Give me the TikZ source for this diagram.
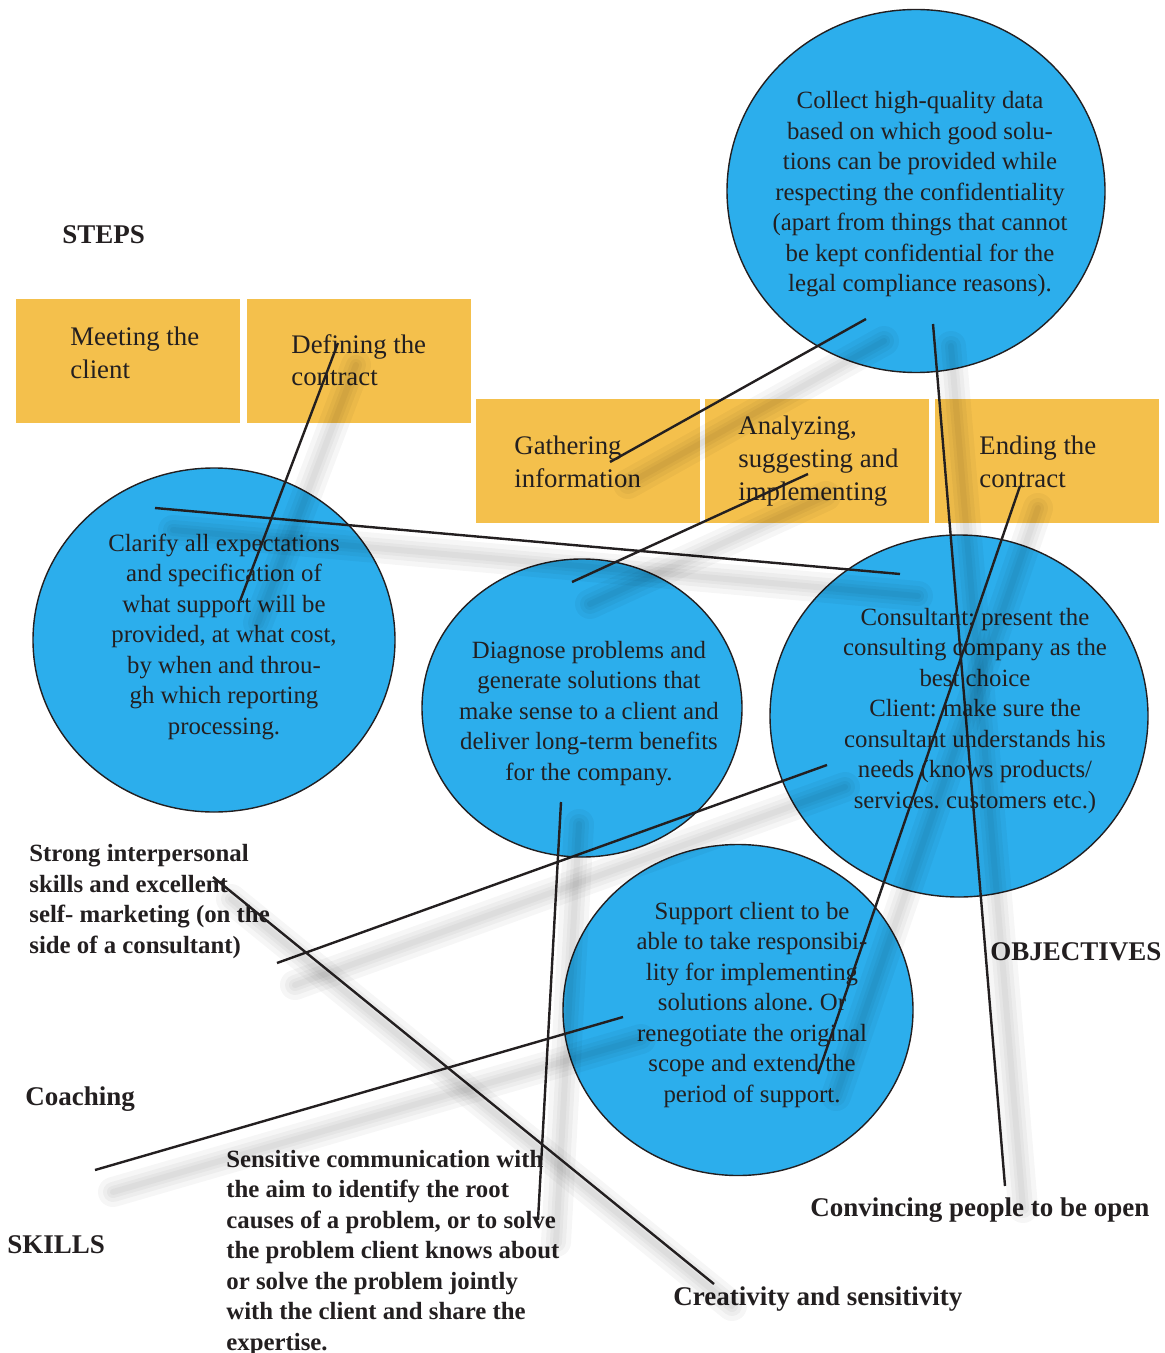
\documentclass[tikz,border=0pt]{standalone}
\usepackage{fontspec}
\setmainfont{Liberation Serif}
\usetikzlibrary{shapes.geometric}
\frenchspacing

\definecolor{stepyellow}{HTML}{F4C04C}
\definecolor{goalblue}{HTML}{2CAEEC}
\definecolor{ink}{HTML}{231F20}

\tikzset{
	stepbox/.style={fill=stepyellow, minimum width=112pt, minimum height=62pt, inner sep=0pt},
	steptext/.style={anchor=base west, align=left, inner sep=0pt, text=ink, font=\fontsize{13.4}{16.5}\selectfont},
	goal/.style={ellipse, draw=ink, line width=0.7pt, fill=goalblue, inner sep=0pt},
	goaltext/.style={anchor=base, align=center, inner sep=0pt, text=ink, font=\fontsize{12.4}{15.25}\selectfont},
	skill/.style={anchor=base west, align=left, inner sep=0pt, text=ink, font=\fontsize{12.4}{15.25}\selectfont\bfseries},
	heading/.style={anchor=base west, inner sep=0pt, text=ink, font=\fontsize{13.5}{16}\selectfont\bfseries},
	blur/.style={draw=black, opacity=0.035, line cap=round, line width=#1, transform canvas={shift={(9pt,-11pt)}}},
	link/.style={draw=ink, line width=1.2pt, preaction={blur=15pt}, preaction={blur=10pt}, preaction={blur=6pt}, preaction={blur=3pt}}
}

\begin{document}
\begin{tikzpicture}[x=0.5pt, y=-0.5pt]
	\useasboundingbox (0,0) rectangle (1164,1353);

	% steps (text nodes sit on the baseline of their last line)
	\node[heading] (steps) at (62,244) {STEPS};
	\node[stepbox] (meet) at (128,361) {};
	\node[stepbox] (define) at (359,361) {};
	\node[stepbox] (gather) at (588,461) {};
	\node[stepbox] (analyze) at (817,461) {};
	\node[stepbox] (finish) at (1047,461) {};
	\node[steptext] (meet-t) at (70,379) {Meeting the\\client};
	\node[steptext] (define-t) at (291,386) {Defining the\\contract};
	\node[steptext] (gather-t) at (514,487) {Gathering\\information};
	\node[steptext] (analyze-t) at (738,500) {Analyzing,\\suggesting and\\implementing};
	\node[steptext] (finish-t) at (979,487) {Ending the\\contract};

	% objectives
	\node[goal, minimum width=189pt, minimum height=181.5pt] (collect) at (916,191) {};
	\node[goal, minimum width=181pt, minimum height=172pt] (clarify) at (214,640) {};
	\node[goal, minimum width=160pt, minimum height=149pt] (diagnose) at (582,708) {};
	\node[goal, minimum width=189pt, minimum height=181pt] (present) at (959,716) {};
	\node[goal, minimum width=175pt, minimum height=165.5pt] (support) at (738,1010) {};
	\node[goaltext] (collect-t) at (920,292) {Collect high-quality data\\based on which good solu-\\tions can be provided while\\respecting the confidentiality\\(apart from things that cannot\\be kept confidential for the\\legal compliance reasons).};
	\node[goaltext] (clarify-t) at (224,734) {Clarify all expectations\\and specification of\\what support will be\\provided, at what cost,\\by when and throu-\\gh which reporting\\processing.};
	\node[goaltext] (diagnose-t) at (589,780) {Diagnose problems and\\generate solutions that\\make sense to a client and\\deliver long-term benefits\\for the company.};
	\node[goaltext] (present-t) at (975,808) {Consultant: present the\\consulting company as the\\best choice\\Client: make sure the\\consultant understands his\\needs (knows products/\\services. customers etc.)};
	\node[goaltext] (support-t) at (752,1102) {Support client to be\\able to take responsibi-\\lity for implementing\\solutions alone. Or\\renegotiate the original\\scope and extend the\\period of support.};
	\node[heading] (objectives) at (990,960) {OBJECTIVES};

	% skills
	\node[skill] (interpersonal) at (29,953) {Strong interpersonal\\skills and excellent\\self- marketing (on the\\side of a consultant)};
	\node[heading] (coaching) at (25,1105) {Coaching};
	\node[heading] (skills) at (7,1253) {SKILLS};
	\node[skill] (communication) at (226,1350) {Sensitive communication with\\the aim to identify the root\\causes of a problem, or to solve\\the problem client knows about\\or solve the problem jointly\\with the client and share the\\expertise.};
	\node[heading] (convincing) at (810,1216) {Convincing people to be open};
	\node[heading] (creativity) at (673,1305) {Creativity and sensitivity};

	% line ends
	\coordinate (clarify-a) at (155,508);
	\coordinate (clarify-b) at (240,601);
	\coordinate (define-a) at (338,343);
	\coordinate (collect-a) at (866,319);
	\coordinate (collect-b) at (933,324);
	\coordinate (gather-a) at (610,462);
	\coordinate (analyze-a) at (808,474);
	\coordinate (finish-a) at (1020,486);
	\coordinate (diagnose-a) at (572,582);
	\coordinate (diagnose-b) at (561,802);
	\coordinate (present-a) at (900,574);
	\coordinate (present-b) at (827,765);
	\coordinate (support-a) at (818,1074);
	\coordinate (support-b) at (623,1017);
	\coordinate (interpersonal-a) at (277,963);
	\coordinate (interpersonal-b) at (213,877);
	\coordinate (coaching-a) at (95,1170);
	\coordinate (communication-a) at (538,1220);
	\coordinate (convincing-a) at (1005,1186);
	\coordinate (creativity-a) at (714,1284);

	\path
		(clarify-a) edge[link] (present-a)
		(define-a) edge[link] (clarify-b)
		(collect-a) edge[link] (gather-a)
		(analyze-a) edge[link] (diagnose-a)
		(collect-b) edge[link] (convincing-a)
		(finish-a) edge[link] (support-a)
		(present-b) edge[link] (interpersonal-a)
		(diagnose-b) edge[link] (communication-a)
		(interpersonal-b) edge[link] (creativity-a)
		(support-b) edge[link] (coaching-a)
	;
\end{tikzpicture}
\end{document}
